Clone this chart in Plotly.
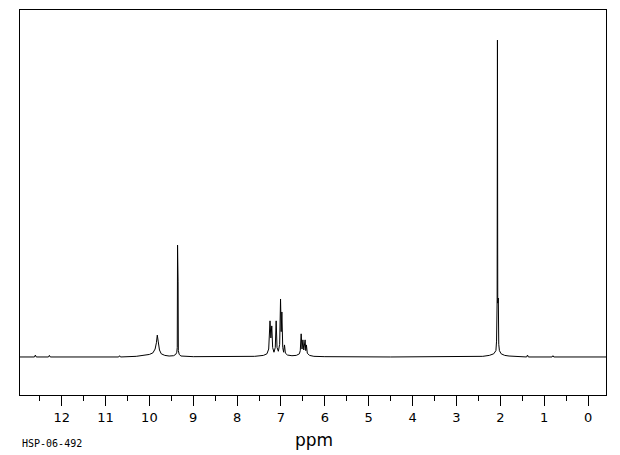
import plotly.graph_objects as go

# Spectrum trace (chemical shift in ppm, relative intensity)
ppm = [12.95, 12.62, 12.60, 12.58, 12.30, 12.28, 12.26, 10.70, 10.68, 10.66,
       10.30, 10.10, 10.00, 9.92, 9.87, 9.84, 9.82, 9.80, 9.77, 9.73, 9.65, 9.55,
       9.45, 9.40, 9.375, 9.365, 9.358, 9.352, 9.346, 9.34, 9.32, 9.28, 9.20, 9.00,
       7.60, 7.40, 7.32, 7.28, 7.25, 7.23, 7.21, 7.19, 7.16, 7.13, 7.11, 7.09, 7.06,
       7.03, 7.01, 6.995, 6.98, 6.96, 6.94, 6.92, 6.90, 6.85, 6.75, 6.65, 6.58, 6.56,
       6.54, 6.52, 6.50, 6.48, 6.45, 6.435, 6.42, 6.40, 6.35, 6.25, 6.00, 4.50,
       2.40, 2.25, 2.15, 2.10, 2.085, 2.072, 2.065, 2.058, 2.045, 2.035, 2.020,
       1.98, 1.90, 1.80, 1.60, 1.40, 1.38, 1.36, 0.82, 0.80, 0.78, -0.41]
intensity = [0.0, 0.0, 0.6, 0.0, 0.0, 0.5, 0.0, 0.0, 0.4, 0.0,
             0.2, 0.5, 0.8, 1.3, 2.5, 4.5, 6.9, 5.0, 2.2, 1.0, 0.5, 0.3,
             0.4, 0.8, 1.5, 3.0, 35.3, 4.0, 23.7, 2.0, 0.8, 0.3, 0.2, 0.1,
             0.2, 0.5, 1.0, 2.5, 11.4, 6.0, 9.8, 3.0, 1.5, 3.0, 11.4, 3.0, 1.8,
             4.0, 18.3, 8.0, 14.2, 3.0, 1.5, 3.8, 1.2, 0.6, 0.4, 0.5, 1.0, 2.0,
             7.3, 2.5, 5.4, 2.2, 5.4, 2.0, 3.8, 1.2, 0.5, 0.2, 0.1, 0.0,
             0.2, 0.5, 1.0, 2.0, 5.0, 18.0, 100.0, 17.0, 18.6, 4.0, 2.0,
             1.0, 0.5, 0.3, 0.1, 0.0, 0.6, 0.0, 0.0, 0.4, 0.0, 0.0]

tick_values = list(range(0, 13))
tick_labels = [str(v) for v in tick_values]
axis_title = "ppm"
sample_id = "HSP-06-492"

fig = go.Figure()
fig.add_trace(go.Scatter(x=ppm, y=intensity, mode="lines",
                         line=dict(color="black", width=1), showlegend=False,
                         hoverinfo="skip"))

fig.update_layout(
    width=612, height=447,
    margin=dict(l=12, r=14, t=2, b=60),
    paper_bgcolor="white", plot_bgcolor="white",
    font=dict(family="DejaVu Sans", size=13, color="black"),
    xaxis=dict(range=[12.95, -0.41], tickmode="array", tickvals=tick_values,
               ticktext=tick_labels, ticks="outside", ticklen=10, tickwidth=1,
               tickcolor="black", showline=True, linecolor="black", linewidth=1,
               mirror=True, showgrid=False, zeroline=False,
               minor=dict(tickmode="array",
                          tickvals=[v + 0.5 for v in range(-1, 13)],
                          ticks="outside", ticklen=5, tickcolor="black",
                          tickwidth=1, showgrid=False),
               tickfont=dict(family="DejaVu Sans", size=13, color="black")),
    yaxis=dict(range=[-12, 109.5], showticklabels=False, ticks="",
               showline=True, linecolor="black", linewidth=1, mirror=True,
               showgrid=False, zeroline=False),
    annotations=[
        dict(text=axis_title, xref="paper", yref="paper", x=0.502, y=-0.118,
             xanchor="center", yanchor="middle", showarrow=False,
             font=dict(family="DejaVu Sans", size=17, color="black")),
        dict(text=sample_id, xref="paper", yref="paper", x=0.0, y=-0.125,
             xanchor="left", yanchor="middle", showarrow=False,
             font=dict(family="DejaVu Sans Mono", size=10, color="black")),
    ],
)

fig.write_html("out.html")
